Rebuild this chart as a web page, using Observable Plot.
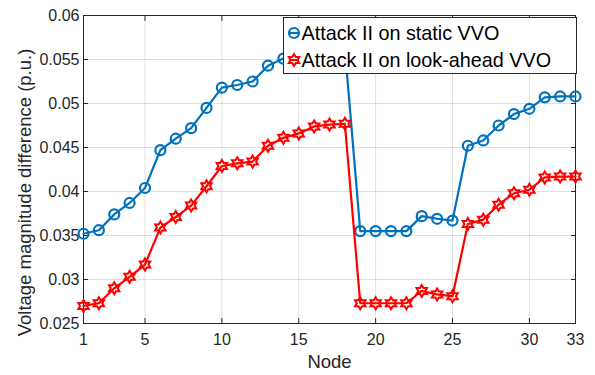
<!DOCTYPE html>
<html>
<head>
<meta charset="utf-8">
<script src="https://cdn.jsdelivr.net/npm/d3@7"></script>
<script src="https://cdn.jsdelivr.net/npm/@observablehq/plot@0.6"></script>
<style>
  body { margin: 0; background: #fff; }
  #chart { position: relative; width: 595px; height: 375px; font-family: "Liberation Sans", Arial, sans-serif; }
  #legend { position: absolute; left: 282.5px; top: 17px; width: 294px; height: 57px; box-sizing: border-box;
            border: 1px solid #262626; background: #fff; }
  .row { position: absolute; left: 0; height: 28px; width: 100%; }
  .row svg { position: absolute; left: 0; top: 0; }
  .row span { position: absolute; left: 18px; top: 0; line-height: 28px; font-size: 19.8px; color: #000; white-space: nowrap; }
</style>
</head>
<body>
<div id="chart"><div id="legend"></div></div>
<script>
// Bus numbers of the 33-node feeder
const nodes = [1, 2, 3, 4, 5, 6, 7, 8, 9, 10, 11, 12, 13, 14, 15, 16, 17,
               18, 19, 20, 21, 22, 23, 24, 25, 26, 27, 28, 29, 30, 31, 32, 33];

// Voltage magnitude difference (p.u.) per node
const staticVVO = [0.0352, 0.0356, 0.0374, 0.0387, 0.0404, 0.0447, 0.0460, 0.0472, 0.0495,
                   0.0518, 0.0521, 0.0525, 0.0543, 0.0551, 0.0556, 0.0559, 0.0561, 0.0562,
                   0.0355, 0.0355, 0.0355, 0.0355, 0.0372, 0.0369, 0.0367, 0.0452, 0.0458,
                   0.0475, 0.0488, 0.0494, 0.0507, 0.0508, 0.0508];
const lookAheadVVO = [0.0270, 0.0273, 0.0290, 0.0303, 0.0317, 0.0359, 0.0371, 0.0384, 0.0406,
                      0.0429, 0.0432, 0.0434, 0.0452, 0.0461, 0.0466, 0.0474, 0.0476, 0.0477,
                      0.0273, 0.0273, 0.0273, 0.0273, 0.0287, 0.0283, 0.0281, 0.0363, 0.0368,
                      0.0385, 0.0398, 0.0402, 0.0416, 0.0417, 0.0417];

const seriesNames = ["Attack II on static VVO", "Attack II on look-ahead VVO"];
const seriesColors = ["#0072BD", "#FF0000"];

const xTicks = [1, 5, 10, 15, 20, 25, 30, 33];
const yTicks = [0.025, 0.03, 0.035, 0.04, 0.045, 0.05, 0.055, 0.06];
const yTickLabels = ["0.025", "0.03", "0.035", "0.04", "0.045", "0.05", "0.055", "0.06"];

const xLabel = "Node";
const yLabel = "Voltage magnitude difference (p.u.)";

// Six-pointed star marker
const hexagram = {
  draw(context, size) {
    const R = Math.sqrt(size / Math.PI) * 1.2;
    const r = R / Math.sqrt(3);
    for (let i = 0; i < 12; i++) {
      const a = -Math.PI / 2 + i * Math.PI / 6;
      const rad = i % 2 ? r : R;
      const px = rad * Math.cos(a), py = rad * Math.sin(a);
      if (i) context.lineTo(px, py); else context.moveTo(px, py);
    }
    context.closePath();
  }
};

const rows = nodes.map((n, i) => ({node: n, stat: staticVVO[i], look: lookAheadVVO[i]}));
const ink = "#262626";
const font = "'Liberation Sans', Arial, sans-serif";

const chart = Plot.plot({
  width: 595,
  height: 375,
  marginLeft: 83,
  marginRight: 20,
  marginTop: 15,
  marginBottom: 52,
  style: {fontFamily: font, fontSize: "16px", color: ink, background: "white", overflow: "visible"},
  x: {domain: [1, 33]},
  y: {domain: [0.025, 0.06]},
  marks: [
    Plot.gridX(xTicks, {stroke: "#000", strokeOpacity: 0.12}),
    Plot.gridY(yTicks, {stroke: "#000", strokeOpacity: 0.12}),
    Plot.axisX(xTicks, {anchor: "bottom", tickSize: -5, tickPadding: 15, label: null, stroke: ink, fill: ink, fontSize: 16}),
    Plot.axisX(xTicks, {anchor: "top", tickSize: -5, tickFormat: () => "", label: null, stroke: ink}),
    Plot.axisY(yTicks, {anchor: "left", tickSize: -5, tickPadding: 9, label: null, stroke: ink, fill: ink, fontSize: 16,
                        tickFormat: d => yTickLabels[yTicks.indexOf(d)]}),
    Plot.axisY(yTicks, {anchor: "right", tickSize: -5, tickFormat: () => "", label: null, stroke: ink}),
    Plot.frame({stroke: ink, strokeWidth: 1}),
    Plot.line(rows, {x: "node", y: "stat", stroke: seriesColors[0], strokeWidth: 2.2}),
    Plot.dot(rows, {x: "node", y: "stat", r: 5, stroke: seriesColors[0], strokeWidth: 2.2, fill: "none"}),
    Plot.line(rows, {x: "node", y: "look", stroke: seriesColors[1], strokeWidth: 2.2}),
    Plot.dot(rows, {x: "node", y: "look", r: 5, symbol: hexagram, stroke: seriesColors[1], strokeWidth: 2, fill: "none"}),
    Plot.text([xLabel], {frameAnchor: "bottom", dy: 44.5, lineAnchor: "bottom", fontSize: 18.5, fill: ink}),
    Plot.text([yLabel], {frameAnchor: "left", dx: -53, dy: 23, rotate: -90, lineAnchor: "bottom",
                         textAnchor: "middle", fontSize: 18.5, fill: ink})
  ]
});

const host = document.getElementById("chart");
host.insertBefore(chart, host.firstChild);

// Legend box: marker icon plus series name per row
const legend = d3.select("#legend");
const markerShapes = [d3.symbolCircle, hexagram];
seriesNames.forEach((name, i) => {
  const row = legend.append("div").attr("class", "row").style("top", (i * 27 + 1) + "px");
  const svg = row.append("svg").attr("width", 22).attr("height", 28);
  const g = svg.append("g").attr("transform", "translate(10,14)");
  g.append("line").attr("x1", -5).attr("x2", 5).attr("stroke", seriesColors[i]).attr("stroke-width", 2);
  g.append("path")
    .attr("d", d3.symbol(markerShapes[i], Math.PI * 25)())
    .attr("fill", "none").attr("stroke", seriesColors[i]).attr("stroke-width", i ? 2 : 2.2);
  row.append("span").text(name);
});
</script>
</body>
</html>
